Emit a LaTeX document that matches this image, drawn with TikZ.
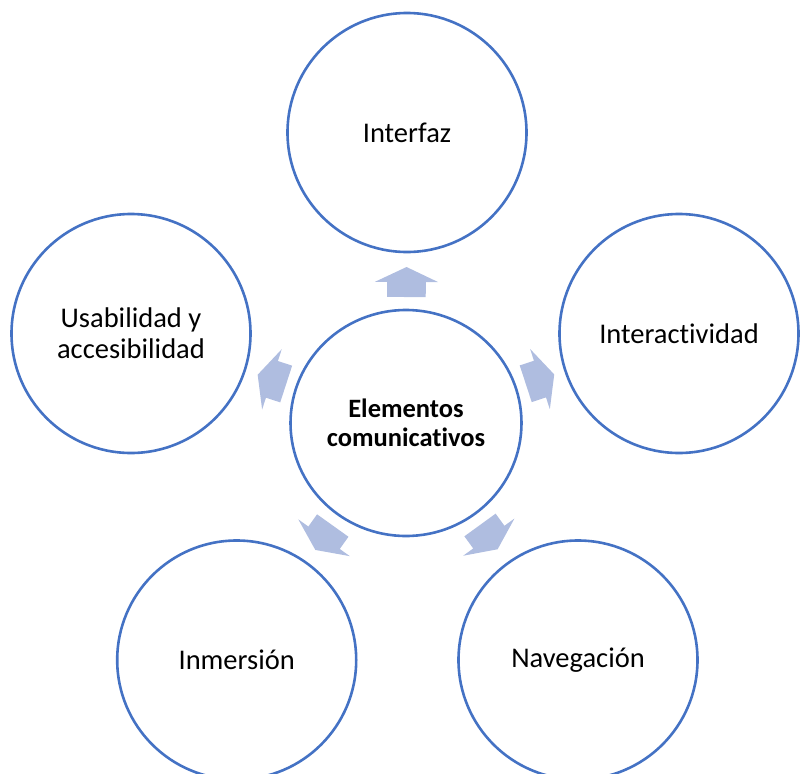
\documentclass[tikz,border=0pt]{standalone}
\usepackage{fontspec}
\setmainfont{Carlito}[Ligatures=NoCommon]
\usetikzlibrary{calc,shapes.geometric}
\definecolor{ringblue}{HTML}{4472C4}
\definecolor{arrowblue}{HTML}{AFBDE0}
\tikzset{
  outercircle/.style={circle, draw=ringblue, line width=2.6pt, minimum size=239pt,
    inner sep=0pt, align=center, font=\fontsize{28.5}{30.8}\selectfont},
  hubcircle/.style={ellipse, draw=ringblue, line width=2.6pt, minimum width=231pt,
    minimum height=226pt, inner sep=0pt, align=center,
    font=\fontsize{26.5}{28.5}\selectfont\bfseries},
  arrowfill/.style={fill=arrowblue, draw=none}
}
\newcommand\radarrow[2]{%
  \path ($(#1.center)!126pt!(#2.center)$) coordinate (ra)
        ($(#1.center)!141pt!(#2.center)$) coordinate (rb)
        ($(#1.center)!156pt!(#2.center)$) coordinate (rc);
  \fill[arrowfill] ($(ra)!19.3pt!90:(rc)$) -- ($(rb)!19.3pt!90:(rc)$)
    -- ($(rb)!31.7pt!90:(rc)$) -- (rc) -- ($(rb)!31.7pt!-90:(rc)$)
    -- ($(rb)!19.3pt!-90:(rc)$) -- ($(ra)!19.3pt!-90:(rc)$) -- cycle;}
\begin{document}
\begin{tikzpicture}[x=1pt,y=-1pt]
\clip (0,0) rectangle (801,774);
\node[hubcircle] (c) at (406,423) {Elementos\\comunicativos};
\node[outercircle] (t) at (407,132.5) {Interfaz};
\node[outercircle] (r) at (679,333.5) {Interactividad};
\node[outercircle] (l) at (131,333.5) {Usabilidad y\\accesibilidad};
\node[outercircle] (bl) at (236.7,660) {Inmersión};
\node[outercircle] (br) at (578,660) {Navegación};
\radarrow{c}{t}
\radarrow{c}{r}
\radarrow{c}{l}
\radarrow{c}{bl}
\radarrow{c}{br}
\end{tikzpicture}
\end{document}
